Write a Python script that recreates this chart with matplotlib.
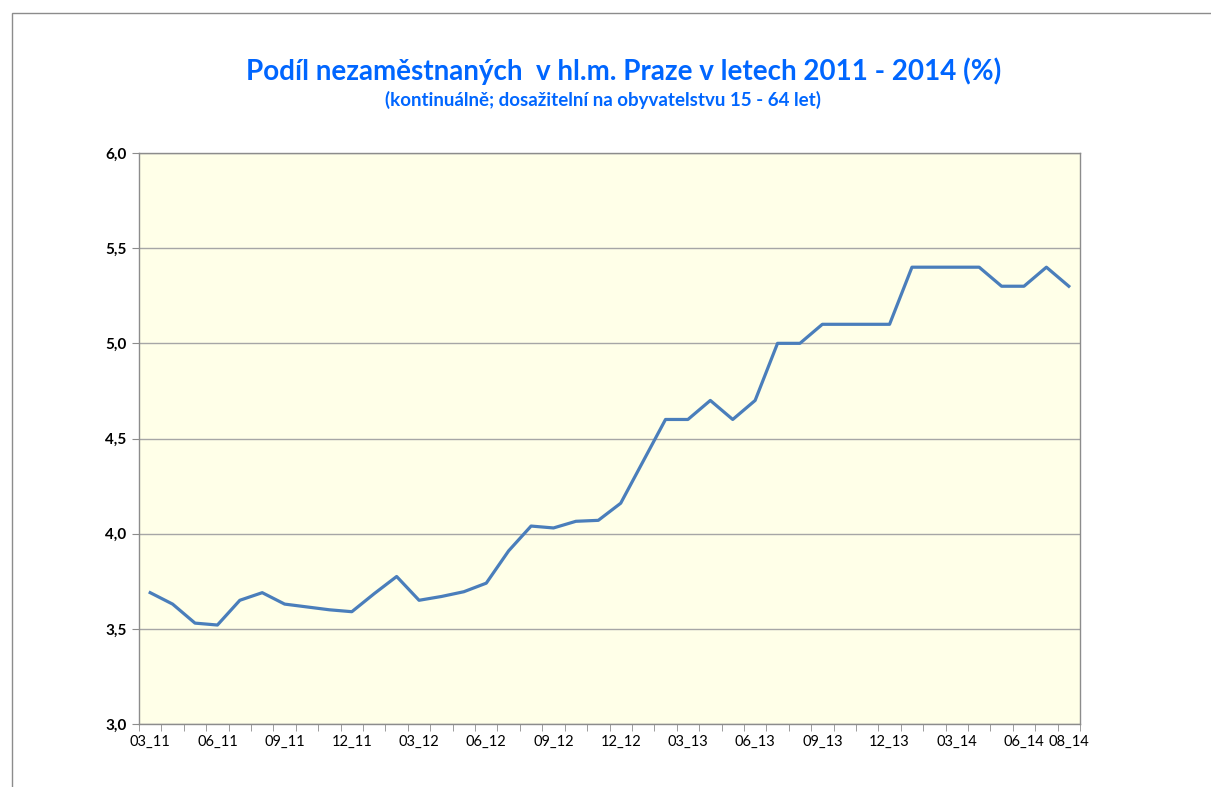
import numpy as np
import matplotlib.pyplot as plt
from matplotlib.patches import Rectangle
from matplotlib.ticker import FixedLocator

# ---- data: monthly unemployment share, Prague, 03/2011 - 08/2014 ----
months = ['03_11', '04_11', '05_11', '06_11', '07_11', '08_11', '09_11', '10_11', '11_11', '12_11',
          '01_12', '02_12', '03_12', '04_12', '05_12', '06_12', '07_12', '08_12', '09_12', '10_12',
          '11_12', '12_12', '01_13', '02_13', '03_13', '04_13', '05_13', '06_13', '07_13', '08_13',
          '09_13', '10_13', '11_13', '12_13', '01_14', '02_14', '03_14', '04_14', '05_14', '06_14',
          '07_14', '08_14']
values = [3.69, 3.63, 3.53, 3.52, 3.65, 3.69, 3.63, 3.615, 3.60, 3.59,
          3.685, 3.775, 3.65, 3.67, 3.695, 3.74, 3.91, 4.04, 4.03, 4.065,
          4.07, 4.16, 4.38, 4.60, 4.60, 4.70, 4.60, 4.70, 5.00, 5.00,
          5.10, 5.10, 5.10, 5.10, 5.40, 5.40, 5.40, 5.40, 5.30, 5.30,
          5.40, 5.30]
shown_labels = ['03_11', '06_11', '09_11', '12_11', '03_12', '06_12', '09_12', '12_12',
                '03_13', '06_13', '09_13', '12_13', '03_14', '06_14', '08_14']
y_ticks = [3.0, 3.5, 4.0, 4.5, 5.0, 5.5, 6.0]

title = 'Podíl nezaměstnaných  v hl.m. Praze v letech 2011 - 2014 (%)'
subtitle = '(kontinuálně; dosažitelní na obyvatelstvu 15 - 64 let)'

W, H = 1211, 787
fig = plt.figure(figsize=(W / 100, H / 100), dpi=100)

# outer chart frame (only top and left visible in the original)
fig.patches.append(Rectangle((12 / W, -0.1), 1.2, 1 - 13 / H + 0.1, transform=fig.transFigure,
                             fill=False, edgecolor='#8c8c8c', lw=1.0))

ax = fig.add_axes([139 / W, 1 - 724 / H, (1080 - 139) / W, (724 - 153) / H])
ax.set_facecolor('#FFFFE8')

x = np.arange(len(months))
ax.plot(x, values, color='#4A7EBB', lw=2.3, solid_joinstyle='round', zorder=3)

ax.set_xlim(-0.5, len(months) - 0.5)
ax.set_ylim(3.0, 6.0)

# y axis
ax.set_yticks(y_ticks)
ax.set_yticklabels([f'{v:.1f}'.replace('.', ',') for v in y_ticks],
                   fontsize=11, fontweight='bold', family='Lato')
ax.yaxis.grid(True, color='#a6a6a6', lw=1.0)
ax.set_axisbelow(True)
ax.tick_params(axis='y', length=5, color='#8c8c8c', pad=4)

# x axis: labels at category centres, ticks at category boundaries
ax.set_xticks([months.index(m) for m in shown_labels])
ax.set_xticklabels(shown_labels, fontsize=10.5, family='Lato')
ax.xaxis.set_minor_locator(FixedLocator(np.arange(-0.5, len(months), 1.0)))
ax.tick_params(axis='x', which='major', length=0, pad=8)
ax.tick_params(axis='x', which='minor', length=5, color='#8c8c8c')

for s in ax.spines.values():
    s.set_color('#8c8c8c')
    s.set_linewidth(1.0)

fig.text(624 / W, 1 - 71 / H, title, ha='center', va='center', color='#0066FF',
         fontsize=20, fontweight='bold', family='Lato')
fig.text(603 / W, 1 - 100 / H, subtitle, ha='center', va='center', color='#0066FF',
         fontsize=13.5, fontweight='bold', family='Lato')

fig.savefig('out.png', dpi=100)
